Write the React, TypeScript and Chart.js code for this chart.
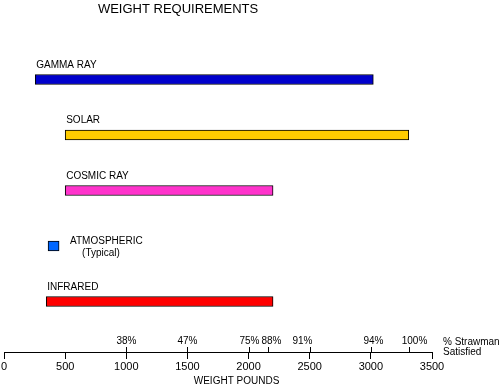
import React, { useEffect, useRef } from 'react';
import { Chart, registerables } from 'chart.js';

Chart.register(...registerables);

// ---- data ----
const categories = ['GAMMA RAY', 'SOLAR', 'COSMIC RAY', 'ATMOSPHERIC', 'INFRARED'];
const subLabels = ['', '', '', '(Typical)', ''];
const barStarts = [255, 500, 500, 360, 345];
const barEnds = [3020, 3310, 2200, 450, 2200];
const barColors = ['#0000CC', '#FFCC00', '#FF33CC', '#0066FF', '#FF0000'];

const axisMin = 0;
const axisMax = 3500;
const axisStep = 500;

const pctValues = [1000, 1500, 2000, 2160, 2500, 3000, 3315];
const pctLabels = ['38%', '47%', '75%', '88%', '91%', '94%', '100%'];

const FONT = '"Liberation Sans", Arial, Helvetica, sans-serif';

const annotationPlugin = {
  id: 'annotations',
  afterDraw(chart: any) {
    const { ctx, chartArea, scales } = chart;
    const xs = scales.x;
    const ys = scales.y;
    const pctShift = [0, 0, 0, 3, -8, 2, 5];
    ctx.save();
    ctx.fillStyle = '#000';
    ctx.strokeStyle = '#000';
    ctx.lineWidth = 1;

    // title
    ctx.font = `13px ${FONT}`;
    ctx.textAlign = 'center';
    ctx.textBaseline = 'middle';
    ctx.fillText('WEIGHT REQUIREMENTS', chartArea.left + 174, 9.5);

    // bar labels
    ctx.font = `10px ${FONT}`;
    ctx.textAlign = 'left';
    categories.forEach((name, i) => {
      const y = ys.getPixelForValue(i);
      if (subLabels[i]) {
        const x = xs.getPixelForValue(barEnds[i]) + 11;
        ctx.fillText(name, x, y - 4.5);
        ctx.fillText(subLabels[i], x + 12, y + 7);
      } else {
        ctx.fillText(name, xs.getPixelForValue(barStarts[i]) + 1, y - 14.5);
      }
    });

    // percent ticks above axis
    const axisY = chartArea.bottom;
    ctx.textAlign = 'center';
    pctValues.forEach((v, i) => {
      const px = Math.round(xs.getPixelForValue(v)) + 0.5;
      ctx.beginPath();
      ctx.moveTo(px, axisY - 5);
      ctx.lineTo(px, axisY);
      ctx.stroke();
      ctx.fillText(pctLabels[i], px + pctShift[i], axisY - 11);
    });

    // right note
    ctx.textAlign = 'left';
    ctx.fillText('% Strawman', chartArea.right + 11, axisY - 10);
    ctx.fillText('Satisfied', chartArea.right + 11, axisY);

    // axis title
    ctx.textAlign = 'center';
    ctx.fillText('WEIGHT POUNDS', (chartArea.left + chartArea.right) / 2 + 18.5, axisY + 29.5);

    ctx.restore();
  },
};

export default function App() {
  const ref = useRef<HTMLCanvasElement>(null);

  useEffect(() => {
    if (!ref.current) return;
    Chart.defaults.font.family = FONT;
    Chart.defaults.color = '#000';
    const chart = new Chart(ref.current, {
      type: 'bar',
      data: {
        datasets: [
          {
            data: categories.map((c, i) => ({ x: [barStarts[i], barEnds[i]], y: i })) as any,
            backgroundColor: barColors,
            borderColor: '#000',
            borderWidth: 1,
            borderSkipped: false,
            barThickness: 10,
          },
        ],
      },
      options: {
        indexAxis: 'y',
        animation: false,
        responsive: false,
        devicePixelRatio: 1,
        layout: { padding: { left: 4, right: 71, top: 24, bottom: 0 } },
        plugins: {
          legend: { display: false },
          tooltip: { enabled: false },
          title: { display: false },
        },
        scales: {
          y: {
            type: 'linear',
            reverse: true,
            min: -1,
            max: 4.91,
            offset: false,
            grid: { offset: false },
            display: false,
          },
          x: {
            type: 'linear',
            position: 'bottom',
            min: axisMin,
            max: axisMax,
            afterFit: (scale: any) => {
              scale.height = 37;
            },
            ticks: {
              stepSize: axisStep,
              color: '#000',
              padding: 1,
              font: { size: 11, family: FONT },
              maxRotation: 0,
              autoSkip: false,
              callback: (v: any) => String(v),
            },
            grid: {
              display: true,
              drawOnChartArea: false,
              drawTicks: true,
              tickLength: 7,
              color: '#000',
              lineWidth: 1,
            },
            border: { display: true, color: '#000', width: 1 },
            title: { display: false },
          },
        },
      },
      plugins: [annotationPlugin],
    });
    return () => chart.destroy();
  }, []);

  return (
    <div style={{ position: 'fixed', left: 0, top: 0, width: 503, height: 389, background: '#fff' }}>
      <canvas ref={ref} width={503} height={389} style={{ display: 'block' }} />
    </div>
  );
}
